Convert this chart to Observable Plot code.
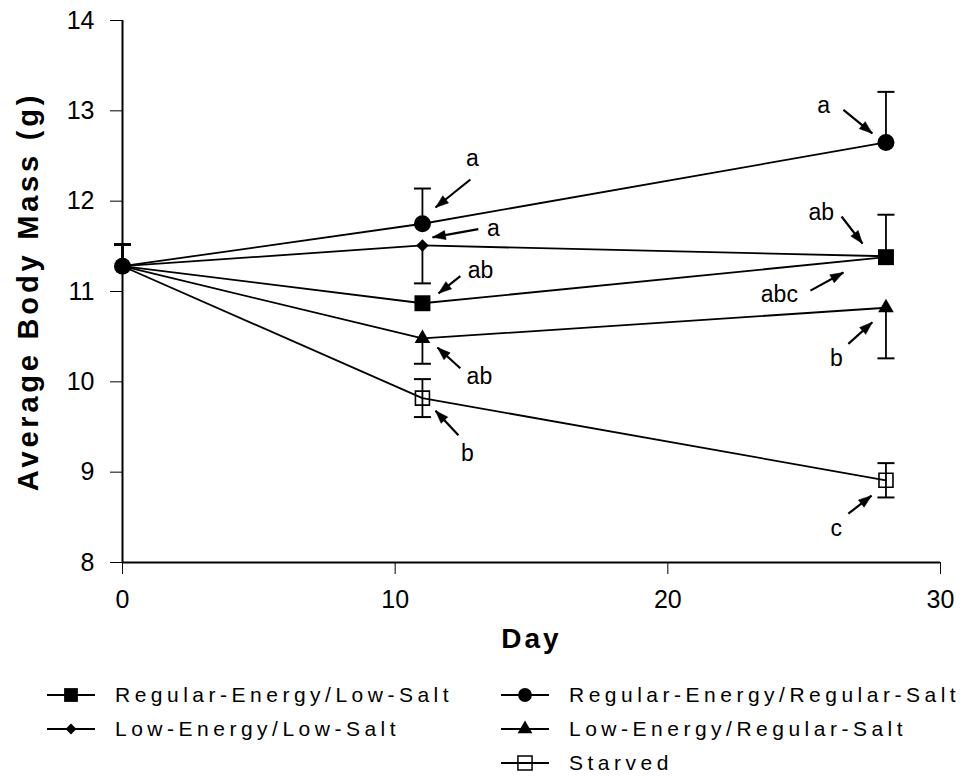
<!DOCTYPE html>
<html>
<head>
<meta charset="utf-8">
<script src="https://cdn.jsdelivr.net/npm/d3@7"></script>
<script src="https://cdn.jsdelivr.net/npm/@observablehq/plot@0.6"></script>
<style>
  body { margin: 0; background: #fff; font-family: "Liberation Sans", Arial, Helvetica, sans-serif; }
  #wrap { position: relative; width: 961px; height: 779px; background: #fff; }
  #legend { position: absolute; left: 0; top: 665px; width: 961px; height: 114px; }
  .item { position: absolute; height: 34px; display: flex; align-items: center;
          font-size: 21px; letter-spacing: 4.5px; color: #000; white-space: nowrap; }
  .item svg { margin-right: 18px; flex: none; }
</style>
</head>
<body>
<div id="wrap"><div id="chart"></div><div id="legend"></div></div>
<script>
// ---- data ----
const groups = ["Regular-Energy/Low-Salt", "Low-Energy/Low-Salt", "Regular-Energy/Regular-Salt", "Low-Energy/Regular-Salt", "Starved"];
const days = [0, 11, 28];
const massRELS    = [11.28, 10.87, 11.38];
const massLELS    = [11.28, 11.51, 11.39];
const massRERS    = [11.28, 11.75, 12.65];
const massLERS    = [11.28, 10.48, 10.82];
const massStarved = [11.28, 9.82, 8.91];
const seRELS    = [0.24, 0, 0.47];
const seLELS    = [0.24, 0.42, 0];
const seRERS    = [0.24, 0.39, 0.56];
const seLERS    = [0.24, 0.28, 0.56];
const seStarved = [0.24, 0.21, 0.19];
// which side of the error bar is drawn
const barRELS    = ["up", "none", "up"];
const barLELS    = ["up", "down", "none"];
const barRERS    = ["up", "up", "up"];
const barLERS    = ["up", "down", "down"];
const barStarved = ["up", "both", "both"];

const xTicks = [0, 10, 20, 30];
const yTicks = [8, 9, 10, 11, 12, 13, 14];

// significance letters with arrows (label position, arrow tail, arrow head; day / mass units)
const annLabel   = ["a", "a", "ab", "ab", "b", "a", "ab", "abc", "b", "c"];
const annLabelX  = [12.83, 13.60, 13.13, 13.09, 12.65, 25.71, 25.63, 24.09, 26.18, 26.18];
const annLabelY  = [12.47, 11.70, 11.23, 10.06, 9.21, 13.06, 11.87, 10.96, 10.26, 8.38];
const annTailX   = [12.76, 13.05, 12.39, 12.39, 12.32, 26.44, 26.37, 25.23, 26.62, 26.62];
const annTailY   = [12.24, 11.69, 11.17, 10.15, 9.41, 13.01, 11.83, 11.01, 10.42, 8.54];
const annHeadX   = [11.48, 11.37, 11.59, 11.55, 11.48, 27.50, 27.14, 26.44, 27.50, 27.47];
const annHeadY   = [11.93, 11.60, 10.98, 10.38, 9.68, 12.75, 11.53, 11.21, 10.66, 8.74];

// ---- build tables ----
const massBy = [massRELS, massLELS, massRERS, massLERS, massStarved];
const seBy = [seRELS, seLELS, seRERS, seLERS, seStarved];
const barBy = [barRELS, barLELS, barRERS, barLERS, barStarved];

const rows = [];
groups.forEach((g, gi) => days.forEach((d, di) => rows.push({
  group: g, day: d, mass: massBy[gi][di], se: seBy[gi][di], bar: barBy[gi][di]
})));
const barRows = rows.filter(r => r.bar !== "none").map(r => ({
  ...r,
  lo: r.bar === "up" ? r.mass : r.mass - r.se,
  hi: r.bar === "down" ? r.mass : r.mass + r.se
}));
const capRows = [];
barRows.forEach(r => {
  if (r.bar === "up" || r.bar === "both") capRows.push({day: r.day, v: r.hi});
  if (r.bar === "down" || r.bar === "both") capRows.push({day: r.day, v: r.lo});
});

// ---- layout shared by probe and final plot ----
const layout = {
  width: 961, height: 665, marginLeft: 122, marginRight: 21, marginTop: 20, marginBottom: 103,
  x: {domain: [0, 30], ticks: xTicks, tickFormat: d => String(d), tickSize: 12, tickPadding: 16, label: null},
  y: {domain: [8, 14], ticks: yTicks, tickFormat: d => String(d), tickSize: 12, tickPadding: 16, label: null}
};
// probe plot to obtain the pixel scales (for orienting arrowheads)
const probe = Plot.plot({...layout, marks: [Plot.frame()]});
const sx = probe.scale("x"), sy = probe.scale("y");
const px = v => sx.range[0] + (v - sx.domain[0]) / (sx.domain[1] - sx.domain[0]) * (sx.range[1] - sx.range[0]);
const py = v => sy.range[0] + (v - sy.domain[0]) / (sy.domain[1] - sy.domain[0]) * (sy.range[1] - sy.range[0]);

const ann = annLabel.map((l, i) => {
  const dxp = px(annHeadX[i]) - px(annTailX[i]);
  const dyp = py(annHeadY[i]) - py(annTailY[i]);
  return {
    label: l, lx: annLabelX[i], ly: annLabelY[i],
    tx: annTailX[i], ty: annTailY[i], hx: annHeadX[i], hy: annHeadY[i],
    angle: Math.atan2(dxp, -dyp) * 180 / Math.PI
  };
});

// ---- marker styles (drawing order: last on top) ----
const styles = [
  {group: "Starved", symbol: "square", r: 7.9, fill: "none", strokeWidth: 1.6},
  {group: "Low-Energy/Regular-Salt", symbol: "triangle", r: 5.8, fill: "black", strokeWidth: 0},
  {group: "Low-Energy/Low-Salt", symbol: "diamond2", r: 5.6, fill: "black", strokeWidth: 0},
  {group: "Regular-Energy/Low-Salt", symbol: "square", r: 9.0, fill: "black", strokeWidth: 0},
  {group: "Regular-Energy/Regular-Salt", symbol: "circle", r: 8.5, fill: "black", strokeWidth: 0}
];
const capSymbol = { draw(ctx) { ctx.moveTo(-8.5, 0); ctx.lineTo(8.5, 0); } };
// filled arrowhead, tip at the anchor point, pointing up before rotation
const headSymbol = { draw(ctx) { ctx.moveTo(0, 0); ctx.lineTo(-4.6, 13); ctx.lineTo(4.6, 13); ctx.closePath(); } };

const dotMarks = styles.map(s => Plot.dot(
  rows.filter(r => r.group === s.group && (r.day !== 0 || s.group === "Regular-Energy/Regular-Salt")),
  {x: "day", y: "mass", symbol: s.symbol, r: s.r, fill: s.fill, stroke: "black", strokeWidth: s.strokeWidth}
));

const chart = Plot.plot({
  ...layout,
  style: {fontFamily: "'Liberation Sans', Arial, Helvetica, sans-serif", fontSize: "25px", background: "white", color: "black"},
  marks: [
    Plot.ruleX([0], {strokeWidth: 2}),
    Plot.ruleY([8], {strokeWidth: 2}),
    Plot.line(rows, {x: "day", y: "mass", z: "group", stroke: "black", strokeWidth: 1.8}),
    Plot.ruleX(barRows, {x: "day", y1: "lo", y2: "hi", stroke: "black", strokeWidth: 1.8}),
    Plot.dot(capRows, {x: "day", y: "v", symbol: capSymbol, r: 5, fill: "none", stroke: "black", strokeWidth: 2}),
    ...dotMarks,
    Plot.link(ann, {x1: "tx", y1: "ty", x2: "hx", y2: "hy", stroke: "black", strokeWidth: 2.2}),
    Plot.dot(ann, {x: "hx", y: "hy", symbol: headSymbol, rotate: "angle", r: 5, fill: "black", stroke: "black", strokeWidth: 0.5}),
    Plot.text(ann, {x: "lx", y: "ly", text: "label", fontSize: 23, fill: "black"}),
    Plot.text(["Average Body Mass (g)"], {text: d => d, frameAnchor: "left", dx: -94, rotate: -90,
      textAnchor: "middle", lineAnchor: "middle", fontSize: 29, fontWeight: "bold", fill: "black"}),
    Plot.text(["Day"], {text: d => d, frameAnchor: "bottom", dy: 77, textAnchor: "middle", lineAnchor: "middle",
      fontSize: 28, fontWeight: "bold", fill: "black"})
  ]
});
document.getElementById("chart").appendChild(chart);
const svgSel = d3.select(chart.tagName.toLowerCase() === "svg" ? chart : chart.querySelector("svg"));
// spaced titles
svgSel.selectAll("text").filter(function () { return this.textContent === "Average Body Mass (g)"; })
  .style("letter-spacing", "3.8px");
svgSel.selectAll("text").filter(function () { return this.textContent === "Day"; })
  .style("letter-spacing", "3px");

// ---- legend ----
const legendItems = [
  {group: "Regular-Energy/Low-Salt", type: d3.symbolSquare, size: 190, fill: "black", left: 45, top: 13},
  {group: "Low-Energy/Low-Salt", type: d3.symbolDiamond2, size: 75, fill: "black", left: 45, top: 47},
  {group: "Regular-Energy/Regular-Salt", type: d3.symbolCircle, size: 150, fill: "black", left: 499, top: 13},
  {group: "Low-Energy/Regular-Salt", type: d3.symbolTriangle, size: 95, fill: "black", left: 499, top: 47},
  {group: "Starved", type: d3.symbolSquare, size: 200, fill: "none", left: 499, top: 81}
];
const legend = d3.select("#legend");
legendItems.forEach(it => {
  const div = legend.append("div").attr("class", "item").style("left", it.left + "px").style("top", it.top + "px");
  const svg = div.append("svg").attr("width", 52).attr("height", 34);
  svg.append("line").attr("x1", 2).attr("x2", 50).attr("y1", 17).attr("y2", 17)
    .attr("stroke", "black").attr("stroke-width", 2);
  svg.append("path").attr("d", d3.symbol(it.type, it.size)()).attr("transform", "translate(26,17)")
    .attr("fill", it.fill).attr("stroke", "black").attr("stroke-width", it.fill === "none" ? 1.5 : 0);
  div.append("span").text(it.group);
});
</script>
</body>
</html>
